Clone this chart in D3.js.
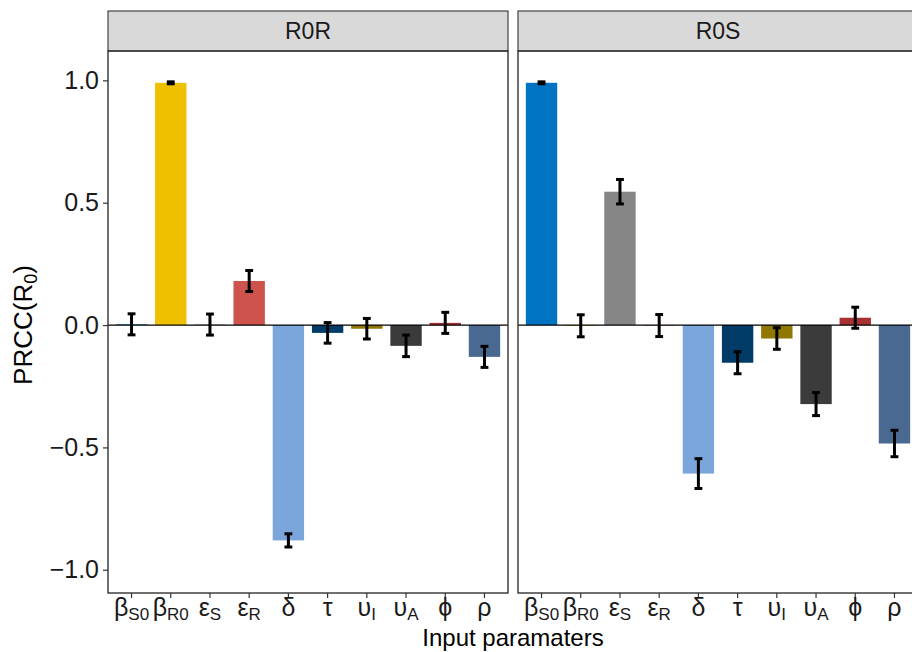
<!DOCTYPE html>
<html>
<head>
<meta charset="utf-8">
<script src="https://cdn.jsdelivr.net/npm/d3@7"></script>
<style>
  body { margin: 0; background: #fff; }
  text { font-family: "Liberation Sans", Arial, sans-serif; }
</style>
</head>
<body>
<div id="vis"></div>
<script>
// data
const params = ['bS0', 'bR0', 'eS', 'eR', 'delta', 'tau', 'uI', 'uA', 'phi', 'rho']
// tick label = [main glyph, subscript]
const tickLabels = [['β', 'S0'], ['β', 'R0'], ['ε', 'S'], ['ε', 'R'], ['δ', ''], ['τ', ''], ['υ', 'I'], ['υ', 'A'], ['ϕ', ''], ['ρ', '']]
const colors = ['#0073C2', '#EFC000', '#868686', '#CD534C', '#7AA6DC', '#003C67', '#8F7700', '#3B3B3B', '#A73030', '#4A6990']
const panels = ['R0R', 'R0S']
const r0rValues = [0.003, 0.99, 0.002, 0.18, -0.88, -0.032, -0.015, -0.085, 0.009, -0.13]
const r0rErr = [0.043, 0.004, 0.043, 0.043, 0.027, 0.042, 0.042, 0.044, 0.043, 0.043]
const r0sValues = [0.99, -0.003, 0.545, -0.002, -0.607, -0.154, -0.055, -0.323, 0.03, -0.484]
const r0sErr = [0.004, 0.045, 0.05, 0.045, 0.061, 0.045, 0.044, 0.047, 0.043, 0.054]
const yTicks = [-1.0, -0.5, 0.0, 0.5, 1.0]

const panelData = [
  params.map((p, i) => ({ p, v: r0rValues[i], e: r0rErr[i], c: colors[i] })),
  params.map((p, i) => ({ p, v: r0sValues[i], e: r0sErr[i], c: colors[i] }))
]

const W = 912, H = 652
const panelW = 400, gap = 10
const marginLeft = 108, stripTop = 11, stripH = 40
const plotTop = stripTop + stripH, plotBottom = 593

const svg = d3.select('#vis').append('svg')
  .attr('width', W).attr('height', H)

const yScale = d3.scaleLinear()
  .domain([-1.095, 1.12])
  .range([plotBottom, plotTop])

const xScale = d3.scaleBand()
  .domain(params)
  .range([0, panelW])
  .paddingInner(0.2)
  .paddingOuter(0.2)

const step = xScale.step()

panels.forEach((name, k) => {
  const x0 = marginLeft + k * (panelW + gap)
  const g = svg.append('g').attr('transform', `translate(${x0},0)`)
  const data = panelData[k]

  // strip
  g.append('rect')
    .attr('x', 0).attr('y', stripTop)
    .attr('width', panelW).attr('height', stripH)
    .attr('fill', '#D9D9D9').attr('stroke', '#333').attr('stroke-width', 1.1)
  g.append('text')
    .attr('x', panelW / 2).attr('y', stripTop + stripH / 2 + 8)
    .attr('text-anchor', 'middle')
    .attr('font-size', 23).attr('fill', '#1a1a1a')
    .text(name)

  // bars
  g.selectAll('.bar').data(data).join('rect')
    .attr('class', 'bar')
    .attr('x', d => xScale(d.p))
    .attr('width', xScale.bandwidth())
    .attr('y', d => yScale(Math.max(0, d.v)))
    .attr('height', d => Math.abs(yScale(d.v) - yScale(0)))
    .attr('fill', d => d.c)

  // zero line
  g.append('line')
    .attr('x1', 0).attr('x2', panelW)
    .attr('y1', yScale(0)).attr('y2', yScale(0))
    .attr('stroke', '#000').attr('stroke-width', 1.2)

  // error bars
  const cap = step * 0.1
  const eb = g.selectAll('.err').data(data).join('g').attr('class', 'err')
    .attr('stroke', '#000').attr('stroke-width', 3)
  eb.append('line')
    .attr('x1', d => xScale(d.p) + xScale.bandwidth() / 2)
    .attr('x2', d => xScale(d.p) + xScale.bandwidth() / 2)
    .attr('y1', d => yScale(d.v + d.e)).attr('y2', d => yScale(d.v - d.e))
  eb.append('line')
    .attr('x1', d => xScale(d.p) + xScale.bandwidth() / 2 - cap)
    .attr('x2', d => xScale(d.p) + xScale.bandwidth() / 2 + cap)
    .attr('y1', d => yScale(d.v + d.e)).attr('y2', d => yScale(d.v + d.e))
  eb.append('line')
    .attr('x1', d => xScale(d.p) + xScale.bandwidth() / 2 - cap)
    .attr('x2', d => xScale(d.p) + xScale.bandwidth() / 2 + cap)
    .attr('y1', d => yScale(d.v - d.e)).attr('y2', d => yScale(d.v - d.e))

  // panel border
  g.append('rect')
    .attr('x', 0).attr('y', plotTop)
    .attr('width', panelW).attr('height', plotBottom - plotTop)
    .attr('fill', 'none').attr('stroke', '#333').attr('stroke-width', 1.4)

  // x axis
  const xAxis = g.append('g').attr('transform', `translate(0,${plotBottom})`)
    .call(d3.axisBottom(xScale).tickSize(5).tickFormat(''))
  xAxis.select('.domain').remove()
  xAxis.selectAll('line').attr('stroke', '#333').attr('stroke-width', 1.2)

  const lab = g.selectAll('.xlab').data(params).join('text')
    .attr('class', 'xlab')
    .attr('x', d => xScale(d) + xScale.bandwidth() / 2)
    .attr('y', plotBottom + 23)
    .attr('text-anchor', 'middle')
    .attr('fill', '#1a1a1a')
  lab.append('tspan')
    .attr('font-size', 25)
    .text((d, i) => tickLabels[i][0])
  lab.append('tspan')
    .attr('font-size', 17)
    .attr('dy', 4)
    .text((d, i) => tickLabels[i][1])

  // y axis only on first panel
  if (k === 0) {
    const yAxis = g.append('g')
      .call(d3.axisLeft(yScale).tickValues(yTicks).tickSize(5).tickFormat(d3.format('.1f')))
    yAxis.select('.domain').remove()
    yAxis.selectAll('line').attr('stroke', '#333').attr('stroke-width', 1.2)
    yAxis.selectAll('text')
      .attr('font-size', 25).attr('fill', '#1a1a1a')
      .attr('font-family', '"Liberation Sans", Arial, sans-serif')
      .attr('x', -9)
      .text(d => d3.format('.1f')(d).replace('-', '\u2212'))
  }
})

// axis titles
const yTitle = svg.append('text')
  .attr('transform', `translate(32,${yScale(0)}) rotate(-90)`)
  .attr('text-anchor', 'middle')
  .attr('font-size', 26).attr('fill', '#000')
yTitle.append('tspan').text('PRCC(R')
yTitle.append('tspan').attr('font-size', 18).attr('dy', 5).text('0')
yTitle.append('tspan').attr('dy', -5).text(')')

svg.append('text')
  .attr('x', marginLeft + panelW + gap / 2)
  .attr('y', 646)
  .attr('text-anchor', 'middle')
  .attr('font-size', 24).attr('fill', '#000')
  .text('Input paramaters')
</script>
</body>
</html>
